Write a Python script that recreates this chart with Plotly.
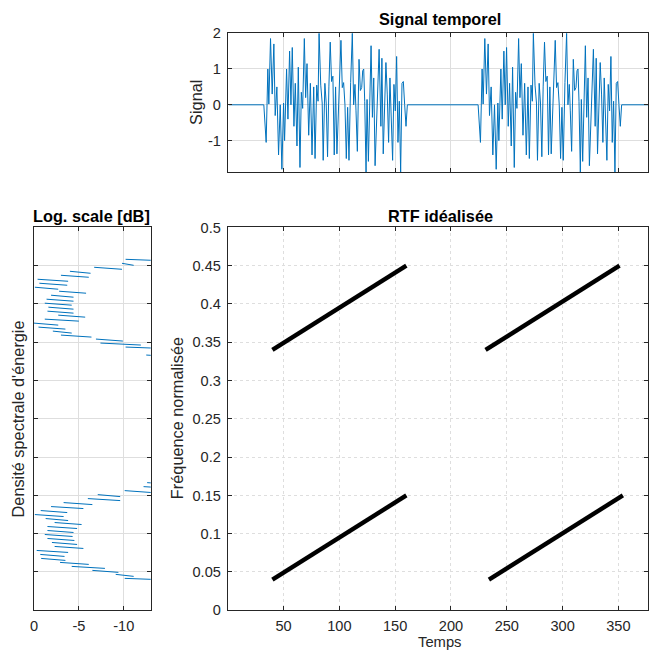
import plotly.graph_objects as go

# ---------------- data ----------------
# Time signal: first burst (time, value) vertices; the second burst repeats it after a delay
burst_t = [32.3, 34.4, 35.9, 36.8, 38.3, 39.8, 41.3, 42.5, 44.0, 45.5, 47.0, 48.5, 50.0, 50.9,
           52.7, 53.9, 55.4, 56.6, 57.8, 59.3, 60.5, 62.0, 63.2, 64.7, 65.9, 67.1, 68.6, 69.8,
           71.0, 72.5, 74.0, 75.5, 77.0, 78.2, 79.7, 80.9, 81.8, 83.3, 84.6, 85.5, 87.0, 88.2,
           89.4, 90.6, 91.8, 93.0, 94.2, 95.4, 96.6, 97.8, 99.6, 101.4, 102.6, 103.8, 105.0,
           106.2, 107.4, 108.6, 110.1, 111.6, 112.8, 114.0, 114.9, 116.1, 117.6, 118.8, 120.0,
           120.9, 121.8, 122.7, 123.9, 124.8, 126.0, 127.2, 128.4, 129.6, 130.8, 132.0, 133.2,
           134.4, 135.6, 137.2, 138.1, 139.3, 140.5, 141.7, 142.9, 144.1, 145.3, 146.5, 147.7,
           148.9, 150.1, 151.3, 152.5, 153.7, 154.9, 156.1, 157.3, 158.5, 159.7, 160.9]
burst_v = [0.0, -1.05, 1.0, 0.02, 1.85, 0.3, 1.7, -0.3, 0.5, -1.4, 0.0, -1.8, 0.05, -1.0,
           1.0, -0.4, 1.5, 0.0, 1.6, -0.6, 0.6, -1.15, 1.05, -1.75, 0.35, -0.1, 1.85, 0.2,
           1.15, -0.85, 0.6, -1.4, 0.5, -1.5, 0.55, 0.1, 2.0, 0.55, 0.05, -1.55, 0.6, 0.05,
           -1.45, 0.5, 1.75, 0.65, 0.8, -1.4, 0.5, -1.37, 0.5, 1.8, 0.48, 0.62, 0.0,
           -1.5, -0.07, -1.55, 0.62, 2.0, 0.0, 0.57, -0.17, -1.3, 1.27, 0.4, 0.48,
           0.95, 1.0, 0.1, -1.88, 0.15, -1.58, 0.0, 1.65, -0.35, 0.75, -1.7, -0.45,
           0.48, 1.55, -0.6, 1.3, -1.37, -0.3, 1.18, 0.3, -1.05, 0.75, -0.6, -1.55,
           0.57, -0.17, 1.35, -1.05, 0.1, -1.88, 0.6, 0.65, 0.0, -0.6, 0.0]
burst_delay = 192
signal_t_start, signal_t_end = 1, 384

# Ideal time-frequency lines
rtf_t0 = [40, 40, 231, 234]
rtf_t1 = [160, 160, 351, 354]
rtf_f0 = [0.34, 0.04, 0.34, 0.04]
rtf_f1 = [0.45, 0.15, 0.45, 0.15]

# Energy spectral density (dB): peak value and tail value of each fringe, bottom-up
n_fft = 384
low_first_bin, high_first_bin = 16, 128
low_peak = [-10.1, -9.1, -6.5, -4.2, -2.9, -0.8, -0.7, -0.3, -2.3, -2.0, -1.5, -1.2, -1.5,
            -1.5, -2.3, -1.3, -0.1, -0.75, -1.9, -3.3, -6.0, -7.1, -10.1, -12.2, -12.6]
low_tail = [-16, -11.1, -9.4, -7.9, -6.1, -3.5, -3.4, -3.8, -5.5, -4.8, -4.5, -4.3, -4.4,
            -4.8, -5.3, -3.8, -3.3, -3.7, -5.5, -6.5, -9.6, -9.6, -13.2, -16, -16]
high_peak = [-12.5, -14.5, -10.2, -7.4, -6.9, -3.0, -2.1, -0.5, 0.0, -1.2, -2.7, -1.5, -1.6,
             -1.2, -1.4, -1.9, -2.8, -0.1, -0.6, -0.4, -3.0, -4.0, -6.7, -9.8, -10.2]
high_tail = [-16, -16, -16, -11.9, -9.9, -6.4, -4.2, -3.5, -2.7, -5.0, -5.7, -4.4, -4.4,
             -4.2, -4.4, -4.4, -5.8, -2.7, -3.7, -3.8, -6.1, -6.3, -9.8, -11.1, -16]

# Tick labels
time_ticks = [50, 100, 150, 200, 250, 300, 350]
time_labels = ["50", "100", "150", "200", "250", "300", "350"]
sig_ticks = [-1, 0, 1, 2]
sig_labels = ["-1", "0", "1", "2"]
freq_ticks = [0, 0.05, 0.1, 0.15, 0.2, 0.25, 0.3, 0.35, 0.4, 0.45, 0.5]
freq_labels = ["0", "0.05", "0.1", "0.15", "0.2", "0.25", "0.3", "0.35", "0.4", "0.45", "0.5"]
db_ticks = [0, -5, -10]
db_labels = ["0", "-5", "-10"]

# ---------------- layout helpers ----------------
W, H = 649, 656
# measured mapping page pixel -> photographed pixel: image = A * page + B (per direction)
AX, BX = 0.986, 4.5
AY, BY = 0.976, 7.8
def page_x(r): return (r - BX) / AX
def page_y(r): return (r - BY) / AY
def fx(r): return page_x(r) / W
def fy(r): return 1 - page_y(r) / H
def fs(size): return size / 0.981

TXT = "#262626"
GRID = "#dedede"
FONT = "Liberation Sans, Arial, Helvetica, sans-serif"
BLUE = "#0072BD"

# ---------------- traces ----------------
sig_x = [signal_t_start] + burst_t + [t + burst_delay for t in burst_t] + [signal_t_end]
sig_y = [0.0] + burst_v + burst_v + [0.0]

fig = go.Figure()
fig.add_trace(go.Scatter(x=sig_x, y=sig_y, mode="lines", line=dict(color=BLUE, width=1),
                         xaxis="x", yaxis="y", showlegend=False, hoverinfo="skip"))

def fringe_segments(peaks, tails, first_bin):
    xs, ys = [], []
    for i, (p, r) in enumerate(zip(peaks, tails)):
        f = (first_bin + 2 * i) / n_fft
        xs += [p, r, None]
        ys += [f, f - 1 / n_fft, None]
    return xs, ys

lx, ly = fringe_segments(low_peak, low_tail, low_first_bin)
hx, hy = fringe_segments(high_peak, high_tail, high_first_bin)
fig.add_trace(go.Scatter(x=lx + hx, y=ly + hy, mode="lines", line=dict(color=BLUE, width=1),
                         xaxis="x2", yaxis="y2", showlegend=False, hoverinfo="skip"))

for t0, t1, f0, f1 in zip(rtf_t0, rtf_t1, rtf_f0, rtf_f1):
    fig.add_trace(go.Scatter(x=[t0, t1], y=[f0, f1], mode="lines",
                             line=dict(color="black", width=4.4),
                             xaxis="x3", yaxis="y3", showlegend=False, hoverinfo="skip"))

# ---------------- axes ----------------
def ax(**kw):
    base = dict(showline=True, linecolor=TXT, linewidth=1, mirror="ticks",
                ticks="inside", ticklen=4, tickwidth=1, tickcolor=TXT,
                showgrid=True, gridcolor=GRID, gridwidth=1, zeroline=False,
                tickfont=dict(family=FONT, size=fs(14.3), color=TXT), fixedrange=True)
    base.update(kw)
    return base

X0_REF, PX_PER_T = 226.85, 1.109            # reference time axis: pixel of t=0, pixels per unit
right_ref = AX * W + BX                       # last reference pixel the page can reach
t_right = (right_ref - X0_REF) / PX_PER_T
plot_x = [fx(X0_REF), 1.0]
low_y = [fy(610.3), fy(227.3)]

fig.update_layout(
    width=W, height=H, margin=dict(l=0, r=0, t=0, b=0),
    paper_bgcolor="white", plot_bgcolor="white",
    xaxis=ax(domain=plot_x, range=[0, t_right], tickvals=time_ticks, ticktext=time_labels,
             showticklabels=False, anchor="y"),
    yaxis=ax(domain=[fy(172), fy(33)], range=[-1.88, 2.0], tickvals=sig_ticks,
             ticktext=sig_labels, anchor="x", ticklabelstandoff=3),
    xaxis2=ax(domain=[fx(34.3), fx(150.3)], range=[0, -13], tickvals=db_ticks,
              ticktext=db_labels, anchor="y2", ticklabelstandoff=2),
    yaxis2=ax(domain=low_y, range=[0, 0.5], tickvals=freq_ticks, showticklabels=False,
              anchor="x2"),
    xaxis3=ax(domain=plot_x, range=[0, t_right], tickvals=time_ticks, ticktext=time_labels,
              anchor="y3", griddash="dot", ticklabelstandoff=2),
    yaxis3=ax(domain=low_y, range=[0, 0.5], tickvals=freq_ticks, ticktext=freq_labels,
              anchor="x3", griddash="dot", ticklabelstandoff=3),
)

def label(text, x, y, angle=0, bold=False, size=16):
    fig.add_annotation(text=f"<b>{text}</b>" if bold else text, x=fx(x), y=fy(y),
                       xref="paper", yref="paper", showarrow=False, textangle=angle,
                       xanchor="center", yanchor="middle",
                       font=dict(family=FONT, size=fs(size), color="black" if bold else TXT))

label("Signal temporel", 438, 18.7, bold=True)
label("Log. scale [dB]", 91, 215.4, bold=True)
label("RTF idéalisée", 438, 215.4, bold=True)
label("Signal", 195, 102, angle=-90)
label("Fréquence normalisée", 176, 418.5, angle=-90)
label("Densité spectrale d'énergie", 18.3, 418.5, angle=-90)
label("Temps", 438, 641.8, size=14.5)

fig.write_html(
    "out.html",
    config={"displayModeBar": False},
    post_script="document.documentElement.style.margin='0';document.body.style.margin='0';"
                "document.body.style.overflow='hidden';",
)
